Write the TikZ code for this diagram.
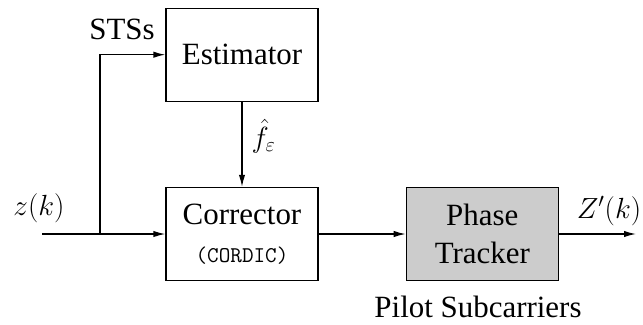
\documentclass[tikz,border=0pt]{standalone}
\usepackage{fontspec}
\setmainfont{Liberation Serif}
\usetikzlibrary{shapes,arrows.meta,calc,positioning}
\tikzset{
    block/.style = {draw, rectangle,
        minimum height=2.325cm,
        minimum width=3.8cm, align=center},
    tracker/.style = {block, fill=gray!40},
    input/.style = {coordinate},
    output/.style = {coordinate},
}

\begin{document}
\begin{tikzpicture}[x=0.025cm, y=-0.025cm, >={Latex[length=8.5pt,width=4.5pt]}, line width=0.9pt, font=\rmfamily\fontsize{22}{27}\selectfont]
	\useasboundingbox (0,0) rectangle (643,324);
	
	% diagram blocks
	\node (corrector) [block] at (242,234) {Corrector\\[0pt]{\fontsize{16}{18}\selectfont\ttfamily (CORDIC)}};
	\node (estimator) [block, above=2.125cm of corrector] {Estimator};
	\node (phaseTrk) [tracker, right=2.175cm of corrector] {Phase\\Tracker};
	
	% signal in / out
	\node (in) [input] at (42,234) {};
	\coordinate (branch) at (100,234);
	\node (out) [output] at (636,234) {};
	
	% labels
	\node (sts) at (122,29) {STSs};
	\node (zIn) at (39,208) {$z(k)$};
	\node (zOut) at (609,211) {$Z'(k)$};
	\node (pilot) at (478,307) {Pilot Subcarriers};
	
	% edges
	\draw (in) -- (branch);
	\draw [->] (branch) -- (corrector);
	\draw [->] (branch) |- (estimator);
	\draw [->] (estimator) -- node[anchor=west, xshift=3pt, yshift=6pt] {$\hat{f}_{\varepsilon}$} (corrector);
	\draw [->] (corrector) -- (phaseTrk);
	\draw [->] (phaseTrk) -- (out);
	
\end{tikzpicture}
\end{document}
